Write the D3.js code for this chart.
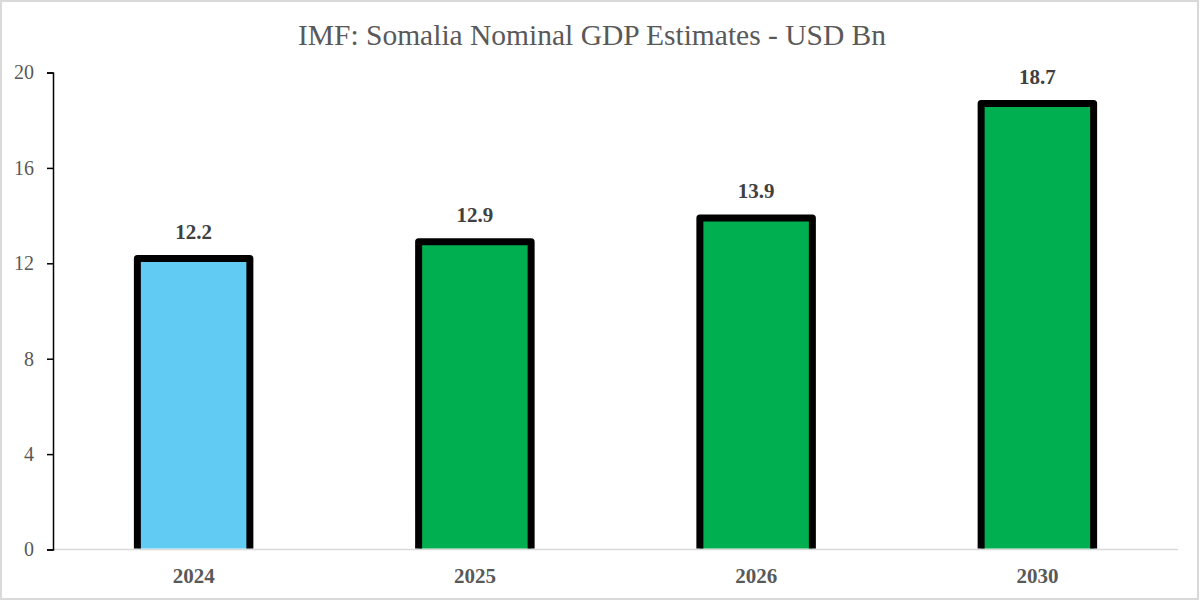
<!DOCTYPE html>
<html>
<head>
<meta charset="utf-8">
<script src="https://cdn.jsdelivr.net/npm/d3@7"></script>
<style>
  body { margin: 0; background: #fff; }
  svg { display: block; }
  .axis--y path, .axis--y line { stroke: #000; stroke-width: 1.5; }
  .axis--y text { font-family: 'Liberation Serif', serif; font-size: 20px; fill: #595959; }
</style>
</head>
<body>
<div id="chart"></div>
<script>
const years = ['2024', '2025', '2026', '2030'];
const gdp = [12.2, 12.9, 13.9, 18.7];
const barColors = ['#61cbf3', '#00b050', '#00b050', '#00b050'];
const yTicks = [0, 4, 8, 12, 16, 20];
const title = 'IMF: Somalia Nominal GDP Estimates - USD Bn';

const W = 1200;
const H = 601;
const margin = { t: 72.5, r: 22, b: 51.5, l: 53 };
const innerW = W - margin.l - margin.r;
const innerH = H - margin.t - margin.b;
const strokeW = 7;

const scaleX = d3.scaleBand()
  .domain(years)
  .range([0, innerW])
  .paddingInner(0.6)
  .paddingOuter(0.3);

const scaleY = d3.scaleLinear()
  .domain([0, 20])
  .range([innerH, 0]);

const svg = d3.select('#chart').append('svg')
  .attr('width', W)
  .attr('height', H);

// outer frame
svg.append('rect')
  .attr('x', 1)
  .attr('y', 1)
  .attr('width', W - 3)
  .attr('height', H - 3)
  .attr('fill', '#fff')
  .attr('stroke', '#d9d9d9')
  .attr('stroke-width', 2);

svg.append('text')
  .attr('x', W / 2 - 8)
  .attr('y', 45)
  .attr('text-anchor', 'middle')
  .style('font-family', "'Liberation Serif', serif")
  .style('font-size', '29.5px')
  .style('fill', '#595959')
  .text(title);

const g = svg.append('g')
  .attr('transform', `translate(${margin.l}, ${margin.t})`);

g.append('defs').append('clipPath')
  .attr('id', 'plot-clip')
  .append('rect')
  .attr('x', -20)
  .attr('y', -40)
  .attr('width', innerW + 40)
  .attr('height', innerH + 40 - 1);

// baseline
g.append('line')
  .attr('x1', 0)
  .attr('x2', innerW)
  .attr('y1', scaleY(0))
  .attr('y2', scaleY(0))
  .style('stroke', '#d9d9d9')
  .style('stroke-width', 1.5);

// bars
g.append('g')
  .attr('clip-path', 'url(#plot-clip)')
  .selectAll('rect')
  .data(gdp)
  .enter().append('rect')
  .attr('x', (d, i) => scaleX(years[i]))
  .attr('width', scaleX.bandwidth())
  .attr('y', d => scaleY(d))
  .attr('height', d => scaleY(0) - scaleY(d) + strokeW)
  .attr('fill', (d, i) => barColors[i])
  .attr('stroke', '#000')
  .attr('stroke-width', strokeW)
  .attr('stroke-linejoin', 'round');

// value labels
g.selectAll('.v-label')
  .data(gdp)
  .enter().append('text')
  .attr('class', 'v-label')
  .attr('x', (d, i) => scaleX(years[i]) + scaleX.bandwidth() / 2)
  .attr('y', d => scaleY(d) - 20)
  .attr('text-anchor', 'middle')
  .style('font-family', "'Liberation Serif', serif")
  .style('font-weight', 'bold')
  .style('font-size', '21px')
  .style('fill', '#404040')
  .text(d => d.toFixed(1));

// y axis
const yAxis = d3.axisLeft(scaleY)
  .tickValues(yTicks)
  .tickSize(6)
  .tickSizeOuter(6)
  .tickPadding(13);

g.append('g')
  .attr('class', 'axis axis--y')
  .call(yAxis);

// x labels
g.selectAll('.x-label')
  .data(years)
  .enter().append('text')
  .attr('class', 'x-label')
  .attr('x', d => scaleX(d) + scaleX.bandwidth() / 2)
  .attr('y', innerH + 33)
  .attr('text-anchor', 'middle')
  .style('font-family', "'Liberation Serif', serif")
  .style('font-weight', 'bold')
  .style('font-size', '21px')
  .style('fill', '#595959')
  .text(d => d);
</script>
</body>
</html>
